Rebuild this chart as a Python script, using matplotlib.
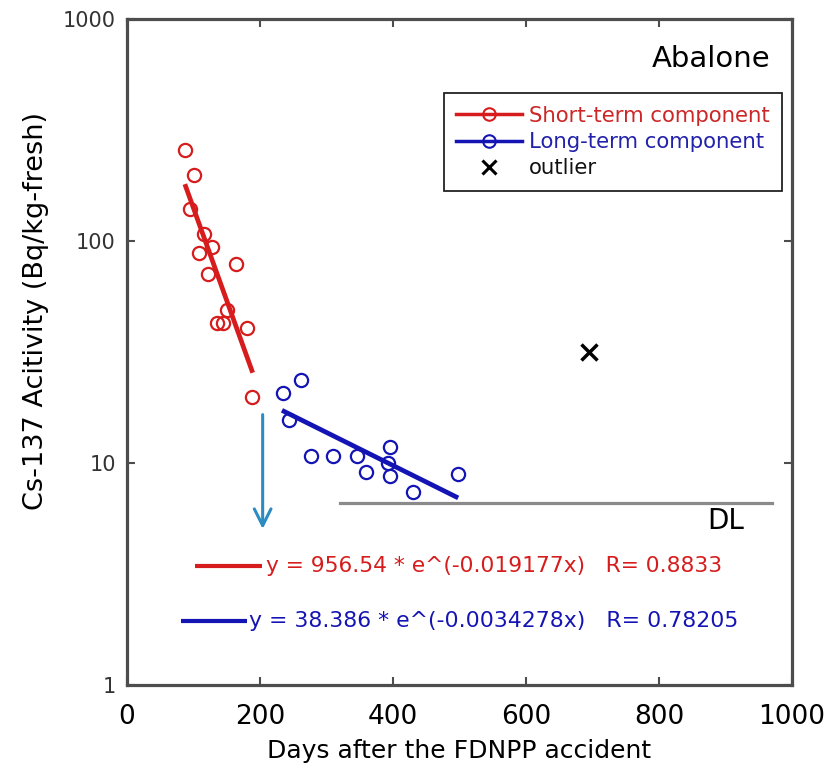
import numpy as np
import matplotlib
matplotlib.use('Agg')
import matplotlib.pyplot as plt
from matplotlib.lines import Line2D
from matplotlib.ticker import FixedLocator, NullLocator

# data (days, Bq/kg-fresh)
short_days = [87, 101, 94, 116, 128, 108, 122, 164, 151, 136, 145, 181, 188]
short_vals = [257, 198, 139, 108, 94, 88, 71, 79, 49, 42.6, 42.6, 40.4, 19.9]
long_days = [262, 234, 244, 276, 310, 346, 360, 396, 393, 395, 430, 497]
long_vals = [23.7, 20.7, 15.7, 10.8, 10.8, 10.8, 9.1, 11.8, 10.0, 8.7, 7.4, 8.9]
outlier_days = [695]
outlier_vals = [31.7]

# fit parameters: y = a * exp(b x), R, fitted day range
short_fit = (956.54, -0.019177, 0.8833, 87, 189)
long_fit = (38.386, -0.0034278, 0.78205, 233, 498)
dl_value = 6.6
dl_range = (320, 970)

red = '#d61c1c'
blue = '#1414b4'

fig = plt.figure(figsize=(8.37, 7.67), dpi=100)
ax = fig.add_axes([127/837, 1-685/767, 665/837, 666/767])

ax.set_yscale('log')
ax.set_xlim(0, 1000)
ax.set_ylim(1, 1000)

# fit lines
for (a, b, r, x0, x1), c in [(short_fit, red), (long_fit, blue)]:
    xx = np.linspace(x0, x1, 50)
    ax.plot(xx, a*np.exp(b*xx), color=c, lw=3.4, solid_capstyle='butt', zorder=3)

ax.plot(short_days, short_vals, 'o', mfc='none', mec=red, ms=9.5, mew=1.6, zorder=4)
ax.plot(long_days, long_vals, 'o', mfc='none', mec=blue, ms=9.5, mew=1.6, zorder=4)
ax.plot(outlier_days, outlier_vals, 'x', color='black', ms=11, mew=2.5, zorder=4)

# detection limit
ax.plot(dl_range, [dl_value, dl_value], color='#8a8a8a', lw=2.3, zorder=2)
ax.text(872, 5.5, 'DL', fontsize=20, va='center', ha='left')

# arrow
ax.annotate('', xy=(204, 4.9), xytext=(204, 17.0),
            arrowprops=dict(arrowstyle='->', color='#2b8cc4', lw=2.2,
                            mutation_scale=30))

# equation labels
ax.plot([102, 203], [3.44, 3.44], color=red, lw=3, solid_capstyle='butt')
ax.text(209, 3.44, 'y = %.2f * e^(%.6fx)   R= %.4f' % short_fit[:3],
        color=red, fontsize=15.7, va='center')
ax.plot([81, 180], [1.94, 1.94], color=blue, lw=3, solid_capstyle='butt')
ax.text(183, 1.94, 'y = %.3f * e^(%.7fx)   R= %.5f' % long_fit[:3],
        color=blue, fontsize=15.8, va='center')

ax.text(0.967, 0.94, 'Abalone', transform=ax.transAxes, ha='right', va='center',
        fontsize=21)

handles = [Line2D([], [], color=red, lw=2.5, marker='o', mfc='none', mec=red, ms=9, mew=1.5),
           Line2D([], [], color=blue, lw=2.5, marker='o', mfc='none', mec=blue, ms=9, mew=1.5),
           Line2D([], [], ls='none', marker='x', color='black', ms=10, mew=2.2)]
leg = ax.legend(handles, ['Short-term component', 'Long-term component', 'outlier'],
                loc='upper right', bbox_to_anchor=(0.985, 0.889), fontsize=15.3,
                frameon=True, fancybox=False, edgecolor='#222222', framealpha=1,
                handlelength=3.1, handletextpad=0.3, labelspacing=0.3,
                borderpad=0.6, borderaxespad=0)
leg.get_frame().set_linewidth(1.3)
for t, c in zip(leg.get_texts(), ['#cc2626', '#2222aa', '#111111']):
    t.set_color(c)

# axes styling
for s in ax.spines.values():
    s.set_color('#4d4d4d')
    s.set_linewidth(2.3)
ax.yaxis.set_major_locator(FixedLocator([1, 10, 100, 1000]))
ax.yaxis.set_minor_locator(NullLocator())
ax.set_yticklabels(['1', '10', '100', '1000'])
ax.set_xticks([0, 200, 400, 600, 800, 1000])
ax.tick_params(direction='in', length=6, width=1.5, color='#4d4d4d',
               top=True, right=True)
ax.tick_params(axis='y', labelsize=15, labelcolor='#333333', pad=8)
ax.tick_params(axis='x', labelsize=19, pad=14)

ax.set_xlabel('Days after the FDNPP accident', fontsize=18, labelpad=6)
ax.set_ylabel('Cs-137 Acitivity (Bq/kg-fresh)', fontsize=19.5)
ax.yaxis.set_label_coords(-0.118, 0.562)

fig.savefig('out.png', dpi=100)
